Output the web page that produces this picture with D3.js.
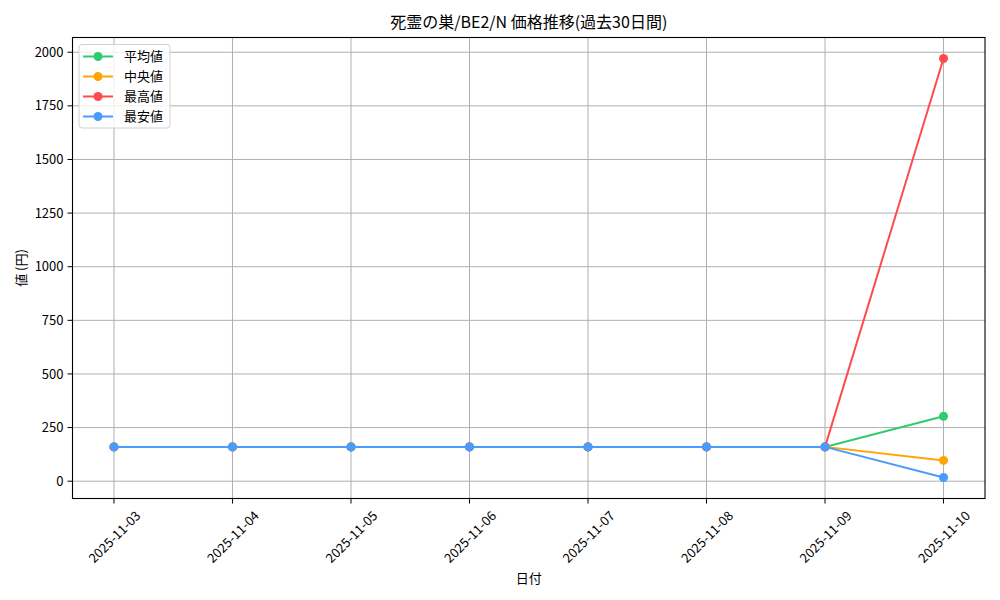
<!DOCTYPE html>
<html><head><meta charset="utf-8">
<script src="https://cdn.jsdelivr.net/npm/d3@7"></script>
<style>
body{margin:0;background:#fff;}
text{font-family:"Noto Sans CJK JP","DejaVu Sans",sans-serif;fill:#000;}
</style></head>
<body><svg id="chart" width="1000" height="600"></svg>
<script>
const dates = ["2025-11-03","2025-11-04","2025-11-05","2025-11-06","2025-11-07","2025-11-08","2025-11-09","2025-11-10"];
const avgValues = [160,160,160,160,160,160,160,303];
const medianValues = [160,160,160,160,160,160,160,97];
const maxValues = [160,160,160,160,160,160,160,1971];
const minValues = [160,160,160,160,160,160,160,17];
const seriesNames = ["平均値","中央値","最高値","最安値"];
const seriesColors = ["#2ecc71","#ffa500","#ff4b4b","#4a9bff"];
const yTicks = [0,250,500,750,1000,1250,1500,1750,2000];
const titleText = "死霊の巣/BE2/N 価格推移(過去30日間)";
const xLabel = "日付";
const yLabel = "値 (円)";

const series = [avgValues, medianValues, maxValues, minValues];
const svg = d3.select("#chart");
const L = 72.5, R = 985, T = 37.5, B = 498.5;

const allVals = series.flat();
const vmin = d3.min(allVals), vmax = d3.max(allVals);
const pad = (vmax - vmin) * 0.05;
const y = d3.scaleLinear().domain([vmin - pad, vmax + pad]).range([B, T]);
const n = dates.length;
const xi = d3.scaleLinear().domain([-(n-1)*0.05, (n-1)*1.05]).range([L, R]);

// grid
const g = svg.append("g");
g.selectAll("line.vg").data(dates).enter().append("line")
  .attr("x1",(d,i)=>xi(i)).attr("x2",(d,i)=>xi(i)).attr("y1",T).attr("y2",B)
  .attr("stroke","#b0b0b0").attr("stroke-width",1);
g.selectAll("line.hg").data(yTicks).enter().append("line")
  .attr("x1",L).attr("x2",R).attr("y1",d=>y(d)).attr("y2",d=>y(d))
  .attr("stroke","#b0b0b0").attr("stroke-width",1);

// lines
const line = d3.line().x((d,i)=>xi(i)).y(d=>y(d));
series.forEach((s,k)=>{
  svg.append("path").datum(s).attr("d",line).attr("fill","none")
    .attr("stroke",seriesColors[k]).attr("stroke-width",2);
  svg.append("g").selectAll("circle").data(s).enter().append("circle")
    .attr("cx",(d,i)=>xi(i)).attr("cy",d=>y(d)).attr("r",4.5).attr("fill",seriesColors[k]);
});

// frame
svg.append("rect").attr("x",L).attr("y",T).attr("width",R-L).attr("height",B-T)
  .attr("fill","none").attr("stroke","#000").attr("stroke-width",1.1);

// y axis ticks
const ya = svg.append("g");
yTicks.forEach(t=>{
  ya.append("line").attr("x1",L-5).attr("x2",L).attr("y1",y(t)).attr("y2",y(t)).attr("stroke","#000").attr("stroke-width",1);
  ya.append("text").attr("x",L-9).attr("y",y(t)).attr("dy","0.35em").attr("text-anchor","end")
    .attr("font-size",13).text(t);
});
// x axis ticks (center-aligned rotated labels, matplotlib style)
dates.forEach((d,i)=>{
  svg.append("line").attr("x1",xi(i)).attr("x2",xi(i)).attr("y1",B).attr("y2",B+5).attr("stroke","#000").attr("stroke-width",1);
  const t = svg.append("text").attr("text-anchor","middle").attr("dominant-baseline","central")
    .attr("font-size",13).text(d);
  const len = t.node().getComputedTextLength();
  const h = 12;
  const half = (len + h) / (2*Math.SQRT2);
  t.attr("transform",`translate(${xi(i)},${B + 10 + half}) rotate(-45)`);
});

// title & labels
svg.append("text").attr("x",(L+R)/2).attr("y",28).attr("text-anchor","middle").attr("font-size",16).text(titleText);
svg.append("text").attr("x",(L+R)/2).attr("y",583).attr("text-anchor","middle").attr("font-size",13).text(xLabel);
svg.append("text").attr("transform",`translate(26,${(T+B)/2}) rotate(-90)`).attr("text-anchor","middle").attr("font-size",13).text(yLabel);

// legend
const lg = svg.append("g");
lg.append("rect").attr("x",79).attr("y",44.5).attr("width",91).attr("height",83.5).attr("rx",3)
  .attr("fill","#fff").attr("fill-opacity",0.8).attr("stroke","#d0d0d0").attr("stroke-width",1);
seriesNames.forEach((nm,k)=>{
  const yy = 56.5 + k*20;
  lg.append("line").attr("x1",83).attr("x2",113).attr("y1",yy).attr("y2",yy).attr("stroke",seriesColors[k]).attr("stroke-width",2);
  lg.append("circle").attr("cx",98).attr("cy",yy).attr("r",4.5).attr("fill",seriesColors[k]);
  lg.append("text").attr("x",124).attr("y",yy).attr("dy","0.35em").attr("font-size",13).text(nm);
});
</script></body></html>
